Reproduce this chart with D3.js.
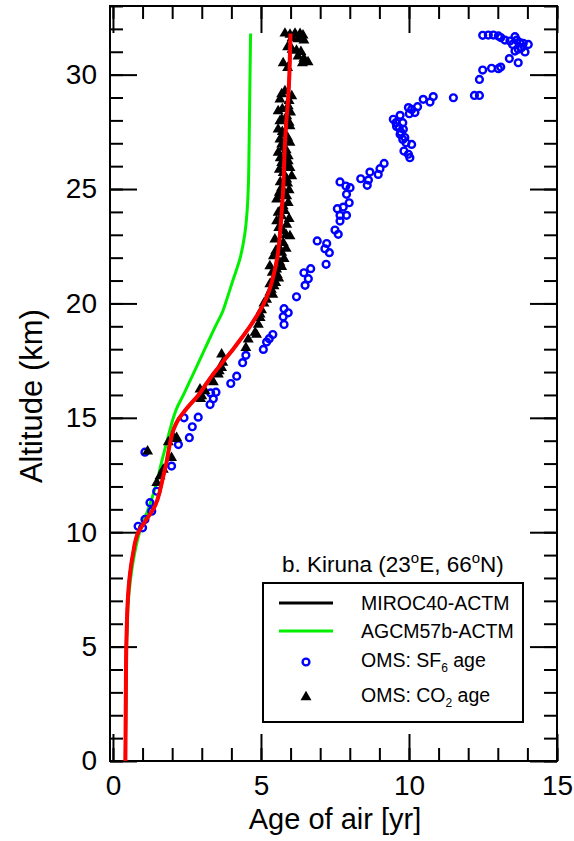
<!DOCTYPE html>
<html>
<head>
<meta charset="utf-8">
<script src="https://cdn.jsdelivr.net/npm/d3@7"></script>
<style>
  body { margin: 0; background: #fff; }
  svg { display: block; }
</style>
</head>
<body>
<svg id="chart"></svg>
<script>
// model profiles: [age (yr), altitude (km)]
const mirocLine = [
  [0.42, 0], [0.43, 2], [0.44, 4], [0.45, 5], [0.47, 6], [0.5, 7], [0.56, 8], [0.67, 9],
  [0.86, 10], [1.1, 10.5], [1.36, 11], [1.7, 12.45], [1.8, 13],
  [1.93, 13.9], [2.05, 14.5], [2.21, 14.93], [2.38, 15.23], [2.55, 15.5], [2.89, 16],
  [3.16, 16.5], [3.44, 17], [3.75, 17.5], [4.06, 18], [4.35, 18.5], [4.63, 19], [4.88, 19.5],
  [5.1, 20], [5.26, 20.5], [5.38, 21], [5.55, 22], [5.64, 23], [5.7, 24], [5.75, 25],
  [5.78, 26], [5.81, 27], [5.86, 28], [5.92, 29], [5.96, 30], [5.98, 31], [6.0, 31.8]
];
const agcmLine = [
  [0.42, 0], [0.43, 2], [0.45, 4], [0.46, 5], [0.48, 6], [0.52, 7], [0.6, 8], [0.72, 9],
  [0.9, 10], [1.04, 10.5], [1.19, 11], [1.44, 12], [1.53, 12.45], [1.63, 13], [1.81, 13.9],
  [1.93, 14.5], [2.04, 15], [2.15, 15.4], [2.38, 16], [2.74, 17], [3.1, 18], [3.46, 19],
  [3.71, 19.66], [3.8, 20], [4.05, 21], [4.3, 22], [4.45, 23], [4.53, 24], [4.57, 25],
  [4.6, 27], [4.63, 30], [4.65, 31.8]
];

// OMS SF6 age: [age, altitude]
const sf6Age = [
  [12.49, 31.72], [12.68, 31.73], [12.85, 31.73], [13.02, 31.69], [13.10, 31.62], [13.24, 31.51],
  [13.41, 31.47], [13.58, 31.66], [13.64, 31.51], [13.75, 31.40], [13.86, 31.37], [14.03, 31.32],
  [13.50, 31.32], [13.80, 31.18], [13.69, 31.11], [13.58, 31.03], [13.92, 30.99], [13.39, 30.70],
  [13.69, 30.52], [13.10, 30.33], [13.02, 30.26], [12.79, 30.28], [12.49, 30.20], [12.38, 29.79],
  [12.21, 29.09], [12.38, 29.09], [11.50, 28.99], [10.82, 29.04], [10.71, 28.80], [10.48, 28.92],
  [10.29, 28.60], [10.09, 28.48], [10.01, 28.29], [9.98, 28.56], [10.20, 28.34], [9.70, 28.22],
  [9.47, 28.05], [9.79, 27.90], [9.56, 27.90], [9.58, 27.73], [9.67, 27.68], [9.81, 27.61],
  [9.72, 27.49], [9.70, 27.39], [9.86, 27.25], [9.79, 27.17], [9.90, 27.02], [10.09, 26.95],
  [9.83, 26.66], [9.98, 26.52], [10.03, 26.37], [9.16, 26.12], [9.02, 25.89], [8.96, 25.64],
  [8.68, 25.74], [8.37, 25.45], [8.63, 25.39], [8.59, 25.16], [7.67, 25.31], [7.87, 25.13],
  [8.01, 25.06], [7.89, 24.77], [7.98, 24.40], [7.78, 24.21], [7.58, 24.14], [7.67, 23.85],
  [7.89, 23.85], [7.67, 23.60], [7.50, 23.21], [7.61, 23.02], [6.90, 22.73], [7.22, 22.62],
  [7.16, 22.39], [7.31, 22.22], [7.20, 21.71], [6.68, 21.52], [6.45, 21.34], [6.60, 21.08],
  [6.49, 20.79], [6.20, 20.29], [5.78, 19.77], [5.92, 19.59], [5.75, 19.42], [5.78, 19.08],
  [5.40, 18.64], [5.28, 18.46], [5.19, 18.31], [5.08, 17.99], [4.49, 17.73], [4.38, 17.41],
  [4.18, 16.82], [3.98, 16.50], [3.48, 16.12], [3.30, 16.09], [3.39, 15.83], [3.28, 15.58],
  [2.88, 15.03], [2.40, 15.00], [2.68, 14.61], [2.58, 14.13], [2.21, 13.83], [1.98, 12.89],
  [1.48, 11.79], [1.25, 11.29], [1.31, 10.92], [1.08, 10.56], [1.00, 10.19], [0.85, 10.26],
  [1.08, 13.50]
];

// OMS CO2 age: [age, altitude]
const co2Age = [
  [5.81, 31.8], [5.98, 31.75], [6.15, 31.8], [6.32, 31.78], [6.42, 31.72], [6.05, 31.6],
  [6.25, 31.55], [6.45, 31.5], [5.9, 31.2], [6.05, 31.1], [6.2, 31.05], [6.35, 31.0],
  [6.25, 30.8], [6.45, 30.7], [6.59, 30.55], [6.4, 30.5], [5.75, 30.5], [5.9, 30.3],
  [5.81, 29.28], [6.04, 29.06], [5.64, 28.92], [5.92, 28.63], [5.58, 28.41], [5.87, 28.19],
  [5.64, 27.97], [5.98, 27.75], [5.58, 27.61], [5.81, 27.39], [5.64, 27.17], [5.98, 27.03],
  [5.75, 26.81], [5.58, 26.59], [5.92, 26.44], [5.92, 26.22], [5.70, 26.15], [5.87, 26.0],
  [5.98, 25.93], [5.75, 25.71], [6.04, 25.57], [5.87, 25.42], [5.70, 25.06], [5.87, 24.69],
  [5.53, 24.55], [5.92, 24.4], [5.75, 24.25], [5.58, 23.97], [5.70, 23.82], [5.53, 23.6],
  [5.87, 23.45], [5.75, 23.16], [5.98, 22.94], [5.47, 22.8], [5.75, 22.65], [5.70, 22.22],
  [5.42, 22.07], [5.64, 21.78], [5.30, 21.63], [5.53, 21.49], [5.42, 21.05], [5.44, 20.76],
  [5.30, 20.47], [5.40, 20.39], [5.19, 20.17], [5.02, 19.71], [4.97, 19.52], [4.97, 19.37],
  [4.91, 19.08], [4.85, 18.64], [4.80, 18.72], [4.57, 18.43], [4.49, 18.06], [3.67, 17.77],
  [3.71, 17.41], [3.67, 17.19], [3.59, 17.04], [3.56, 16.9], [3.39, 16.56], [2.94, 16.24],
  [3.11, 16.17], [3.0, 15.95], [2.96, 15.83], [2.15, 14.13], [2.09, 14.08], [1.87, 13.94],
  [1.98, 13.25], [1.70, 12.74], [1.59, 12.45], [1.48, 12.16], [1.17, 13.54],
  [5.7, 29.15], [5.95, 28.85], [5.72, 28.5], [6.0, 28.35], [5.7, 28.05], [5.95, 27.9],
  [5.72, 27.5], [5.9, 27.25], [5.7, 26.95], [5.85, 26.7], [5.65, 26.35], [5.8, 26.1],
  [5.62, 25.85], [5.9, 25.25], [5.65, 25.3], [5.95, 24.95], [5.62, 24.85], [5.8, 24.05],
  [5.65, 24.7], [5.95, 23.7], [5.6, 23.3], [5.85, 23.0], [5.6, 22.45], [5.85, 22.4],
  [5.5, 22.3], [5.78, 21.95], [5.55, 21.25], [5.7, 21.6], [5.38, 21.35], [5.6, 21.1],
  [5.5, 20.9], [5.3, 20.85], [5.1, 20.0], [5.35, 20.6]
];

const xMajorTicks = [0, 5, 10, 15];
const yMajorTicks = [0, 5, 10, 15, 20, 25, 30];
const xMinorTicks = d3.range(0, 16, 1);
const yMinorTicks = d3.range(0, 34, 1);

const WIDTH = 574;
const HEIGHT = 841;
const PAD_LEFT = 110;
const PAD_RIGHT = 17;
const PAD_TOP = 6;
const PAD_BOTTOM = 80;
const FONT = '"Liberation Sans", Arial, Helvetica, sans-serif';

const svg = d3.select('#chart')
  .attr('width', WIDTH)
  .attr('height', HEIGHT)
  .attr('font-family', FONT);

const xScale = d3.scaleLinear()
  .domain([-0.1, 15])
  .range([PAD_LEFT, WIDTH - PAD_RIGHT]);

const yScale = d3.scaleLinear()
  .domain([0, 33])
  .range([HEIGHT - PAD_BOTTOM, PAD_TOP]);

const plotW = WIDTH - PAD_LEFT - PAD_RIGHT;
const plotH = HEIGHT - PAD_TOP - PAD_BOTTOM;

/* --AXES-- */
const MAJOR = 27;
const MINOR = 13;

function styleAxis(g, showLabels) {
  g.select('.domain').remove();
  g.selectAll('.tick line').attr('stroke', '#000').attr('stroke-width', 2);
  if (!showLabels) g.selectAll('.tick text').remove();
  else g.selectAll('.tick text').attr('font-size', 28).attr('fill', '#000').attr('font-family', FONT);
}

// bottom
svg.append('g')
  .attr('transform', `translate(0, ${HEIGHT - PAD_BOTTOM})`)
  .call(d3.axisBottom(xScale).tickValues(xMinorTicks).tickSize(-MINOR).tickFormat(''))
  .call(g => styleAxis(g, false));
svg.append('g')
  .attr('id', 'x-axis')
  .attr('transform', `translate(0, ${HEIGHT - PAD_BOTTOM})`)
  .call(d3.axisBottom(xScale).tickValues(xMajorTicks).tickSize(-MAJOR).tickPadding(14).tickFormat(d3.format('d')))
  .call(g => styleAxis(g, true));

// top
svg.append('g')
  .attr('transform', `translate(0, ${PAD_TOP})`)
  .call(d3.axisTop(xScale).tickValues(xMinorTicks).tickSize(-MINOR))
  .call(g => styleAxis(g, false));
svg.append('g')
  .attr('transform', `translate(0, ${PAD_TOP})`)
  .call(d3.axisTop(xScale).tickValues(xMajorTicks).tickSize(-MAJOR))
  .call(g => styleAxis(g, false));

// left
svg.append('g')
  .attr('transform', `translate(${PAD_LEFT}, 0)`)
  .call(d3.axisLeft(yScale).tickValues(yMinorTicks).tickSize(-MINOR))
  .call(g => styleAxis(g, false));
svg.append('g')
  .attr('id', 'y-axis')
  .attr('transform', `translate(${PAD_LEFT}, 0)`)
  .call(d3.axisLeft(yScale).tickValues(yMajorTicks).tickSize(-MAJOR).tickPadding(13).tickFormat(d3.format('d')))
  .call(g => styleAxis(g, true));

// right
svg.append('g')
  .attr('transform', `translate(${WIDTH - PAD_RIGHT}, 0)`)
  .call(d3.axisRight(yScale).tickValues(yMinorTicks).tickSize(-MINOR))
  .call(g => styleAxis(g, false));
svg.append('g')
  .attr('transform', `translate(${WIDTH - PAD_RIGHT}, 0)`)
  .call(d3.axisRight(yScale).tickValues(yMajorTicks).tickSize(-MAJOR))
  .call(g => styleAxis(g, false));

// frame
svg.append('rect')
  .attr('x', PAD_LEFT)
  .attr('y', PAD_TOP)
  .attr('width', plotW)
  .attr('height', plotH)
  .attr('fill', 'none')
  .attr('stroke', '#000')
  .attr('stroke-width', 2);

/* --TITLES-- */
svg.append('text')
  .text('Age of air [yr]')
  .attr('x', xScale(0) + (xScale(15) - xScale(0)) / 2)
  .attr('y', 829)
  .attr('text-anchor', 'middle')
  .attr('font-size', 29)
  .attr('fill', '#000');

svg.append('text')
  .text('Altitude (km)')
  .attr('transform', `translate(42, ${yScale(15.95)}) rotate(-90)`)
  .attr('text-anchor', 'middle')
  .attr('font-size', 31)
  .attr('fill', '#000');

/* --DATA-- */
const plot = svg.append('g');

const line = d3.line()
  .x(d => xScale(d[0]))
  .y(d => yScale(d[1]))
  .curve(d3.curveMonotoneY);

plot.append('path')
  .datum(agcmLine)
  .attr('d', line)
  .attr('fill', 'none')
  .attr('stroke', '#00f000')
  .attr('stroke-width', 3);

plot.selectAll('circle.sf6')
  .data(sf6Age)
  .enter()
  .append('circle')
  .attr('class', 'sf6')
  .attr('cx', d => xScale(d[0]))
  .attr('cy', d => yScale(d[1]))
  .attr('r', 3.4)
  .attr('fill', 'none')
  .attr('stroke', '#0000ff')
  .attr('stroke-width', 2.4);

const tri = d3.symbol().type(d3.symbolTriangle).size(52);

plot.selectAll('path.co2')
  .data(co2Age)
  .enter()
  .append('path')
  .attr('class', 'co2')
  .attr('d', tri)
  .attr('transform', d => `translate(${xScale(d[0])}, ${yScale(d[1])})`)
  .attr('fill', '#000');

plot.append('path')
  .datum(mirocLine)
  .attr('d', line)
  .attr('fill', 'none')
  .attr('stroke', '#000')
  .attr('stroke-width', 3);

plot.append('path')
  .datum(mirocLine)
  .attr('d', line)
  .attr('fill', 'none')
  .attr('stroke', '#ff0000')
  .attr('stroke-width', 4);

/* --LEGEND-- */
const legendG = svg.append('g').attr('id', 'legend').attr('fill', '#000');

const title = legendG.append('text')
  .attr('x', 282)
  .attr('y', 572)
  .attr('font-size', 22.5);
title.append('tspan').text('b. Kiruna (23');
title.append('tspan').text('o').attr('font-size', 15).attr('dy', -9);
title.append('tspan').text('E, 66').attr('dy', 9);
title.append('tspan').text('o').attr('font-size', 15).attr('dy', -9);
title.append('tspan').text('N)').attr('dy', 9);

legendG.append('rect')
  .attr('x', 263)
  .attr('y', 583)
  .attr('width', 260)
  .attr('height', 139)
  .attr('fill', '#fff')
  .attr('stroke', '#000')
  .attr('stroke-width', 2);

const legendRows = [
  { y: 603, kind: 'line', color: '#000' },
  { y: 631, kind: 'line', color: '#00f000' },
  { y: 662, kind: 'circle', color: '#0000ff' },
  { y: 697, kind: 'triangle', color: '#000' }
];

legendRows.forEach(r => {
  if (r.kind === 'line') {
    legendG.append('line')
      .attr('x1', 279).attr('x2', 333)
      .attr('y1', r.y).attr('y2', r.y)
      .attr('stroke', r.color)
      .attr('stroke-width', 3);
  } else if (r.kind === 'circle') {
    legendG.append('circle')
      .attr('cx', 306).attr('cy', r.y)
      .attr('r', 3.4)
      .attr('fill', 'none')
      .attr('stroke', r.color)
      .attr('stroke-width', 2.4);
  } else {
    legendG.append('path')
      .attr('d', tri)
      .attr('transform', `translate(306, ${r.y})`)
      .attr('fill', r.color);
  }
});

const LX = 361;
legendG.append('text').attr('x', LX).attr('y', 610).attr('font-size', 19.5).text('MIROC40-ACTM');
legendG.append('text').attr('x', LX).attr('y', 638).attr('font-size', 19.5).text('AGCM57b-ACTM');

const sfText = legendG.append('text').attr('x', LX).attr('y', 667).attr('font-size', 19.5);
sfText.append('tspan').text('OMS: SF');
sfText.append('tspan').text('6').attr('font-size', 12).attr('dy', 5);
sfText.append('tspan').text(' age').attr('dy', -5);

const coText = legendG.append('text').attr('x', LX).attr('y', 702).attr('font-size', 19.5);
coText.append('tspan').text('OMS: CO');
coText.append('tspan').text('2').attr('font-size', 12).attr('dy', 5);
coText.append('tspan').text(' age').attr('dy', -5);
</script>
</body>
</html>
